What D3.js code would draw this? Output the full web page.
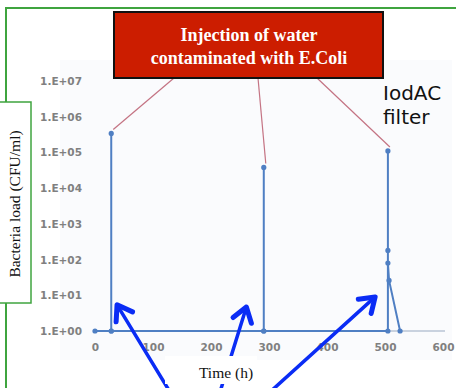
<!DOCTYPE html>
<html>
<head>
<meta charset="utf-8">
<script src="https://cdn.jsdelivr.net/npm/d3@7"></script>
<style>
  body { margin: 0; background: #fff; }
  svg { display: block; }
</style>
</head>
<body>
<script>
// Chart data
const times  = [0, 28, 28, 28, 291, 291, 291, 505, 505, 505, 505, 507, 526];
const counts = [1, 1, 3.4e5, 1, 1, 3.8e4, 1, 1, 1.1e5, 180, 80, 26, 1];
const yTicks = [1, 10, 100, 1e3, 1e4, 1e5, 1e6, 1e7];
const yTickLabels = ['1.E+00', '1.E+01', '1.E+02', '1.E+03', '1.E+04', '1.E+05', '1.E+06', '1.E+07'];
const xTicks = [0, 100, 200, 300, 400, 500, 600];
const injectionIdx = [2, 5, 8];          // spike tops that the callout lines point at
const arrowTips = [[38, 5.4], [261, 4.7], [483, 9]];   // (h, CFU/ml)

const width = 456, height = 388;

const svg = d3.select('body').append('svg')
  .attr('width', width)
  .attr('height', height);

const x = d3.scaleLinear().domain([0, 600]).range([95, 443]);
const y = d3.scaleLog().domain([1, 1e7]).range([331, 81]);

// green frame
svg.append('path')
  .attr('d', 'M6,388 V8 H456')
  .attr('fill', 'none')
  .attr('stroke', '#3fa43f')
  .attr('stroke-width', 2);

// faint plot area
svg.append('rect')
  .attr('x', 60).attr('y', 60).attr('width', 392).attr('height', 300)
  .attr('fill', '#fafbfd');

// y tick labels
svg.append('g')
  .selectAll('text')
  .data(yTicks)
  .join('text')
  .attr('x', 82)
  .attr('y', d => y(d) + 4)
  .attr('text-anchor', 'end')
  .attr('font-family', 'DejaVu Sans, sans-serif')
  .attr('font-size', 10.5)
  .attr('font-weight', 'bold')
  .attr('fill', '#808080')
  .text((d, i) => yTickLabels[i]);

// x axis
const xAxis = d3.axisBottom(x).tickValues(xTicks).tickSize(0).tickPadding(13);
const gx = svg.append('g')
  .attr('transform', 'translate(0,' + y(1) + ')')
  .call(xAxis);
gx.select('.domain').attr('stroke', '#b8c4d4').attr('stroke-width', 1.5)
  .attr('d', 'M' + x(0) + ',0H' + (x(600) + 2));
gx.selectAll('text')
  .attr('font-family', 'DejaVu Sans, sans-serif')
  .attr('font-size', 10.5)
  .attr('font-weight', 'bold')
  .attr('fill', '#808080');

// series
const pts = times.map((t, i) => [t, counts[i]]);
const line = d3.line().x(d => x(d[0])).y(d => y(d[1]));
svg.append('path')
  .attr('d', line(pts))
  .attr('fill', 'none')
  .attr('stroke', '#4f7fc3')
  .attr('stroke-width', 2);
svg.append('g')
  .selectAll('circle')
  .data(pts)
  .join('circle')
  .attr('cx', d => x(d[0]))
  .attr('cy', d => y(d[1]))
  .attr('r', 2.6)
  .attr('fill', '#4f7fc3');

// callout lines from the red box
const anchorsX = [174, 258, 317];
svg.append('g')
  .selectAll('line')
  .data(injectionIdx)
  .join('line')
  .attr('x1', (d, i) => anchorsX[i])
  .attr('y1', 78)
  .attr('x2', d => x(times[d]) + 2)
  .attr('y2', d => y(counts[d]) - 4)
  .attr('stroke', '#c47383')
  .attr('stroke-width', 1.2);

// red box
svg.append('rect')
  .attr('x', 114).attr('y', 12).attr('width', 269).attr('height', 66)
  .attr('fill', '#cc1d00')
  .attr('stroke', '#111')
  .attr('stroke-width', 2);
svg.append('text')
  .attr('x', 249).attr('y', 41)
  .attr('text-anchor', 'middle')
  .attr('font-family', 'Liberation Serif, serif')
  .attr('font-weight', 'bold')
  .attr('font-size', 18)
  .attr('fill', '#fff')
  .text('Injection of water');
svg.append('text')
  .attr('x', 249).attr('y', 64)
  .attr('text-anchor', 'middle')
  .attr('font-family', 'Liberation Serif, serif')
  .attr('font-weight', 'bold')
  .attr('font-size', 18)
  .attr('fill', '#fff')
  .text('contaminated with E.Coli');

// IodAC filter
svg.append('text')
  .attr('x', 383).attr('y', 100)
  .attr('font-family', 'DejaVu Sans, sans-serif')
  .attr('font-size', 20)
  .attr('fill', '#111')
  .text('IodAC');
svg.append('text')
  .attr('x', 383).attr('y', 124)
  .attr('font-family', 'DejaVu Sans, sans-serif')
  .attr('font-size', 20)
  .attr('fill', '#111')
  .text('filter');

// blue arrows
const tails = [[170, 392], [220, 392], [270, 392]];
const arrows = svg.append('g')
  .attr('stroke', '#0a2cf5')
  .attr('fill', 'none')
  .attr('stroke-linecap', 'round')
  .attr('stroke-linejoin', 'round');
arrowTips.forEach((t, i) => {
  const tx = x(t[0]), ty = y(t[1]);
  const [sx, sy] = tails[i];
  arrows.append('line')
    .attr('x1', sx).attr('y1', sy).attr('x2', tx).attr('y2', ty)
    .attr('stroke-width', 3.5);
  const a = Math.atan2(ty - sy, tx - sx);
  const L = 17, w = 0.6;
  const p1 = [tx - L * Math.cos(a - w), ty - L * Math.sin(a - w)];
  const p2 = [tx - L * Math.cos(a + w), ty - L * Math.sin(a + w)];
  arrows.append('path')
    .attr('d', 'M' + p1 + 'L' + tx + ',' + ty + 'L' + p2)
    .attr('stroke-width', 5);
});

// x axis title with white box
svg.append('rect')
  .attr('x', 165).attr('y', 356).attr('width', 92).attr('height', 28)
  .attr('fill', '#fff');
svg.append('text')
  .attr('x', 226).attr('y', 378)
  .attr('text-anchor', 'middle')
  .attr('font-family', 'Liberation Serif, serif')
  .attr('font-size', 15.5)
  .attr('fill', '#111')
  .text('Time (h)');

// y axis title box
svg.append('rect')
  .attr('x', -2).attr('y', 102).attr('width', 33).attr('height', 201)
  .attr('fill', '#fff')
  .attr('stroke', '#3fa43f')
  .attr('stroke-width', 1.5);
svg.append('text')
  .attr('transform', 'translate(20,204) rotate(-90)')
  .attr('text-anchor', 'middle')
  .attr('font-family', 'Liberation Serif, serif')
  .attr('font-size', 15.5)
  .attr('fill', '#111')
  .text('Bacteria load (CFU/ml)');
</script>
</body>
</html>
